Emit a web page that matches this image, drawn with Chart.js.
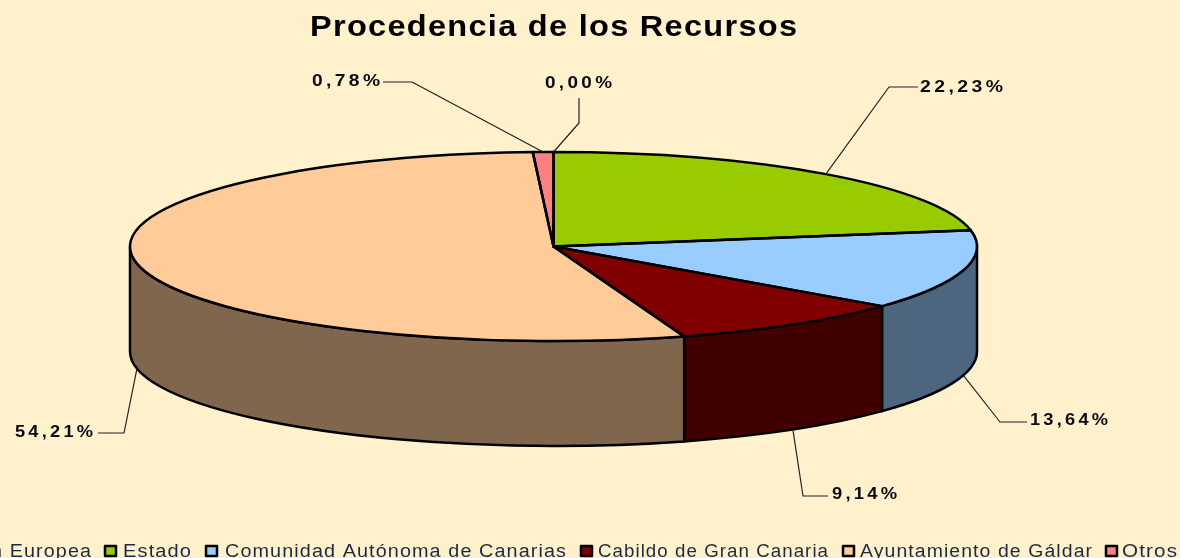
<!DOCTYPE html>
<html lang="es">
<head>
<meta charset="utf-8">
<title>Procedencia de los Recursos</title>
<style>
  html, body { margin: 0; background: #fff1cc; overflow: hidden; }
  canvas { display: block; }
</style>
</head>
<body>
<canvas id="pie" width="1180" height="558"></canvas>
<script src="https://cdn.jsdelivr.net/npm/chart.js@4/dist/chart.umd.min.js"></script>
<script>
const chartTitle = 'Procedencia de los Recursos';
const categories = ['Unión Europea', 'Estado', 'Comunidad Autónoma de Canarias', 'Cabildo de Gran Canaria', 'Ayuntamiento de Gáldar', 'Otros'];
const shares = [0, 22.23, 13.64, 9.14, 54.21, 0.78];
const topColors = ['#9999ff', '#99cc00', '#99ccff', '#800000', '#ffcc99', '#ff8080'];
const wallColors = ['#4d4d80', '#4d6600', '#4d6680', '#400000', '#80664d', '#804040'];

// Ellipse of the pie top on the page, and how tall the side wall is
const pie3d = { cx: 553.5, cy: 246.5, rx: 423.5, ry: 94.5, depth: 105 };

// Where each value label sits: left edge, right edge, baseline and the elbow of its leader line
const labelSpots = [
  { left: 545, right: 612, y: 88, elbow: [[579, 98], [579, 123]] },
  { left: 920, right: 1003, y: 92, elbow: [[918, 87], [889, 87]] },
  { left: 1030, right: 1108, y: 425, elbow: [[1027, 422], [1000, 422]] },
  { left: 832, right: 897, y: 499, elbow: [[828, 496], [803, 496]] },
  { left: 15, right: 93, y: 437, elbow: [[98, 433], [124, 433]] },
  { left: 312, right: 380, y: 86, elbow: [[383, 82], [412, 82]] }
];
// Legend row: swatch left, text left, text right (first entry runs off the page)
const legendRow = [
  [-73, -54, 91], [104, 123, 191], [205, 225, 566],
  [580, 598, 828], [842, 860, 1092], [1105, 1122, 1177]
];

const labelFor = (v) => v.toFixed(2).replace('.', ',') + '%';

// The original text is stretched sideways, so scale it to the width it has there
function stretchedText(ctx, text, left, y, width, spacing) {
  ctx.save();
  ctx.textAlign = 'left';
  ctx.letterSpacing = spacing + 'px';
  const w = ctx.measureText(text).width - spacing;
  ctx.translate(left, y);
  ctx.scale(width / w, 1);
  ctx.fillText(text, 0, 0);
  ctx.restore();
}

const tiltedPie = {
  id: 'tiltedPie',
  beforeDatasetsDraw(chart) {
    const { ctx } = chart;
    const arcs = chart.getDatasetMeta(0).data;
    const { cx, cy, rx, ry, depth } = pie3d;
    // side walls: only the part of each slice facing the viewer
    arcs.forEach((arc, i) => {
      const a = Math.max(arc.startAngle, 0);
      const b = Math.min(arc.endAngle, Math.PI);
      if (b <= a) return;
      ctx.beginPath();
      ctx.ellipse(cx, cy, rx, ry, 0, a, b);
      ctx.ellipse(cx, cy + depth, rx, ry, 0, b, a, true);
      ctx.closePath();
      ctx.fillStyle = wallColors[i];
      ctx.fill();
      ctx.lineWidth = 2.5;
      ctx.lineJoin = 'round';
      ctx.strokeStyle = '#000';
      ctx.stroke();
    });
    // squash the round pie into the ellipse
    const R = arcs[0].outerRadius;
    ctx.save();
    ctx.translate(cx, cy);
    ctx.scale(rx / R, ry / R);
    ctx.translate(-arcs[0].x, -arcs[0].y);
  },
  afterDatasetsDraw(chart) {
    const { ctx } = chart;
    ctx.restore();
    const arcs = chart.getDatasetMeta(0).data;
    const { cx, cy, rx, ry, depth } = pie3d;

    arcs.forEach((arc) => {
      ctx.beginPath();
      ctx.moveTo(cx, cy);
      ctx.ellipse(cx, cy, rx, ry, 0, arc.startAngle, arc.endAngle);
      ctx.closePath();
      ctx.lineWidth = 2.5;
      ctx.lineJoin = 'round';
      ctx.strokeStyle = '#000';
      ctx.stroke();
    });

    // leader lines start on the middle of each slice's visible rim
    arcs.forEach((arc, i) => {
      const mid = (arc.startAngle + arc.endAngle) / 2;
      const sy = cy + ry * Math.sin(mid) + (Math.sin(mid) > 0 ? depth : 0);
      const sx = cx + rx * Math.cos(mid);
      const spot = labelSpots[i];
      ctx.beginPath();
      ctx.moveTo(spot.elbow[0][0], spot.elbow[0][1]);
      ctx.lineTo(spot.elbow[1][0], spot.elbow[1][1]);
      ctx.lineTo(sx, sy);
      ctx.lineWidth = 1.2;
      ctx.strokeStyle = '#222';
      ctx.stroke();

      ctx.font = 'bold 17px "Liberation Sans"';
      ctx.fillStyle = '#0a0a14';
      ctx.textBaseline = 'alphabetic';
      stretchedText(ctx, labelFor(shares[i]), spot.left, spot.y, spot.right - spot.left, 3);
    });
  },
  afterDraw(chart) {
    const { ctx } = chart;
    ctx.save();
    ctx.fillStyle = '#000';
    ctx.textBaseline = 'alphabetic';
    ctx.font = 'bold 30px "Liberation Sans"';
    stretchedText(ctx, chartTitle, 310, 36, 487, 1.2);

    ctx.font = '18px "Liberation Sans"';
    categories.forEach((name, i) => {
      const [box, left, right] = legendRow[i];
      ctx.fillStyle = topColors[i];
      ctx.fillRect(box + 1, 546, 11, 10);
      ctx.lineWidth = 2.5;
      ctx.strokeStyle = '#000';
      ctx.strokeRect(box + 1, 546, 11, 10);
      ctx.fillStyle = '#1c2a44';
      stretchedText(ctx, name, left, 557, right - left, 1);
    });
    ctx.restore();
  }
};

new Chart(document.getElementById('pie'), {
  type: 'pie',
  data: {
    labels: categories,
    datasets: [{ data: shares, backgroundColor: topColors, borderWidth: 0 }]
  },
  options: {
    responsive: false,
    animation: false,
    layout: { padding: 0 },
    plugins: { legend: { display: false }, title: { display: false }, tooltip: { enabled: false } }
  },
  plugins: [tiltedPie]
});
</script>
</body>
</html>
